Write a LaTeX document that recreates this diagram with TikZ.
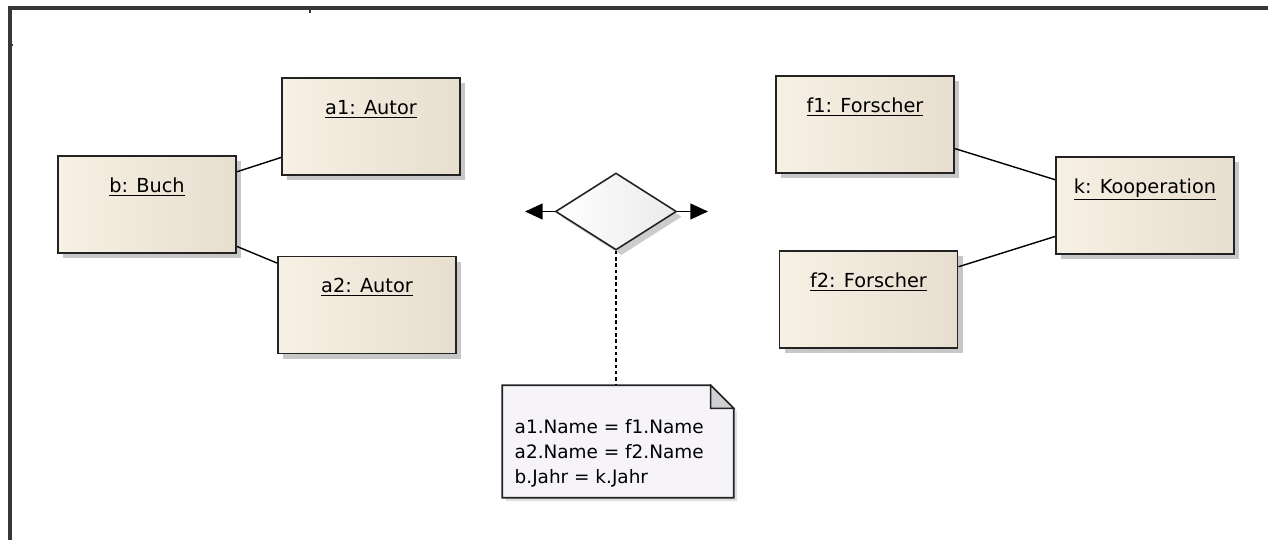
\documentclass[tikz,border=0pt]{standalone}
\usepackage{fontspec}
\setmainfont{DejaVu Sans}
\usepackage{tikz}
\usetikzlibrary{shapes.geometric, shadows, arrows.meta}

\definecolor{objleft}{RGB}{247,240,228}
\definecolor{objright}{RGB}{231,222,207}
\definecolor{objline}{RGB}{35,35,35}
\definecolor{notefill}{RGB}{246,244,248}
\definecolor{foldfill}{RGB}{208,208,210}
\definecolor{framegray}{RGB}{55,55,55}

\begin{document}
\begin{tikzpicture}[x=0.02cm, y=-0.02cm, thick]
  \tikzset{objbox/.style={draw=objline, line width=1.1pt, rectangle,
      left color=objleft, right color=objright,
      minimum width=3.56cm, minimum height=1.94cm, inner sep=0pt,
      text height=8pt, text depth=22pt,
      font=\fontsize{11}{13}\selectfont,
      drop shadow={shadow xshift=3pt, shadow yshift=-3pt, fill=black, opacity=0.22}},
    link/.style={draw=black, line width=0.8pt},
    choice/.style={draw=objline, line width=0.9pt, diamond, inner sep=0pt,
      minimum width=2.42cm, minimum height=1.54cm,
      left color=white, right color=black!8,
      drop shadow={shadow xshift=3pt, shadow yshift=-3pt, fill=black, opacity=0.2}},
    tip/.style={-{Triangle[length=10pt, width=9pt]}, line width=0.9pt}}

  \useasboundingbox (0,0) rectangle (1268,540);

  % frame
  \draw [framegray, line width=1.8pt] (10,540) -- (10,8) -- (1268,8);
  \draw [framegray, line width=1.5pt] (310,8) -- (310,13);
  \draw [framegray, line width=1.5pt] (10,45) -- (13,45);

  \foreach \n/\x/\y/\t in {b/147/204.5/b: Buch, a1/371/126.5/a1: Autor,
      a2/367/305/a2: Autor, f1/865/124.5/f1: Forscher,
      f2/868.5/299.5/f2: Forscher, k/1145/205.5/k: Kooperation} {
    \node [objbox] (\n) at (\x, \y) {\underline{\t}};
  }

  \draw [link] (b.20) -- (a1.199);
  \draw [link] (b.335) -- (a2.155);
  \draw [link] (f1.345) -- (k.164);
  \draw [link] (f2.20) -- (k.199);

  \node [choice] (dia) at (616, 211.5) {};
  \coordinate (dl) at (525, 211.5);
  \coordinate (dr) at (708, 211.5);
  \draw [tip] (dia.west) -- (dl);
  \draw [tip] (dia.east) -- (dr);

  \node [minimum width=4.6cm, minimum height=2.22cm, inner sep=0pt] (note) at (618, 441.5) {};
  \draw [objline, line width=1pt, fill=notefill,
         drop shadow={shadow xshift=2pt, shadow yshift=-2pt, fill=black, opacity=0.12}]
    (note.north west) -- ([xshift=-0.46cm]note.north east)
    -- ([yshift=-0.46cm]note.north east) -- (note.south east)
    -- (note.south west) -- cycle;
  \filldraw [objline, line width=0.8pt, fill=foldfill]
    ([xshift=-0.46cm]note.north east) -- ([xshift=-0.46cm, yshift=-0.46cm]note.north east)
    -- ([yshift=-0.46cm]note.north east) -- cycle;
  \node [anchor=west, align=left, inner sep=0pt,
         font=\fontsize{10.5}{14.2}\selectfont] (cond) at (514, 453)
    {a1.Name = f1.Name\\a2.Name = f2.Name\\b.Jahr = k.Jahr};

  \draw [line width=0.9pt, dash pattern=on 2pt off 1.6pt] (dia.south) -- (dia.south |- note.north);

\end{tikzpicture}
\end{document}
